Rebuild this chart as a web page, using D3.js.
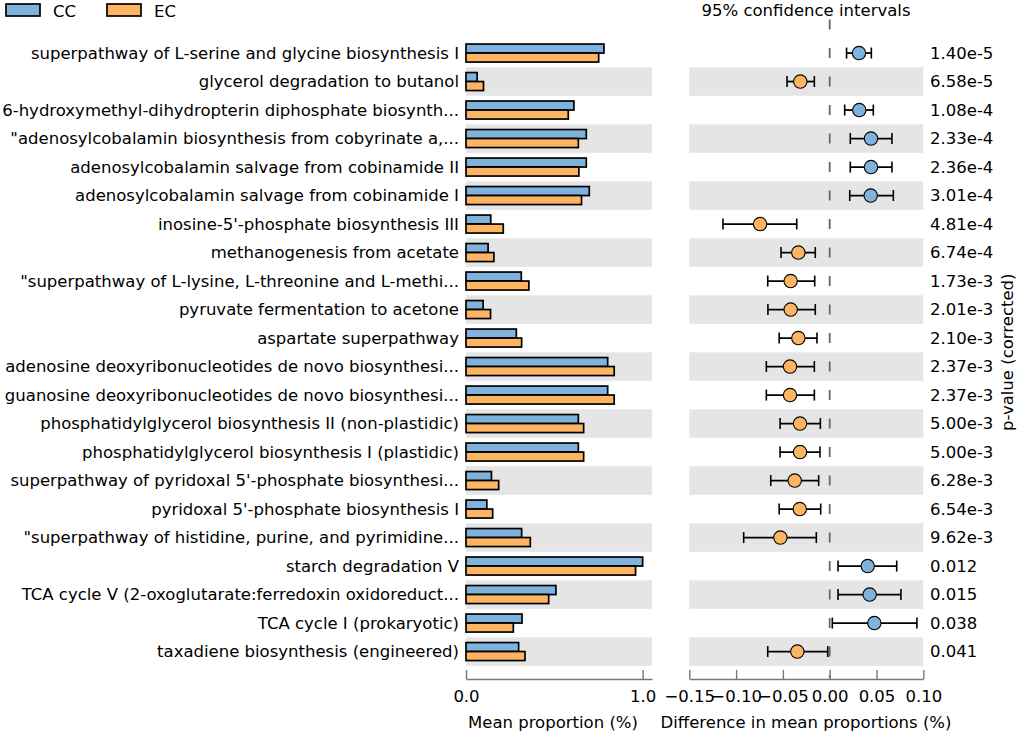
<!DOCTYPE html>
<html>
<head>
<meta charset="utf-8">
<script src="https://cdn.jsdelivr.net/npm/d3@7"></script>
<style>
  body { margin: 0; background: #fff; }
  svg text { font-family: "DejaVu Sans", sans-serif; fill: #000; }
  .axis path, .axis line { stroke: #777; stroke-width: 1.4; }
  .axis text { font-size: 16.5px; font-family: "DejaVu Sans", sans-serif; }
</style>
</head>
<body>
<div id="chart"></div>
<script>
// pathway names, top to bottom
var pathways = [
  "superpathway of L-serine and glycine biosynthesis I",
  "glycerol degradation to butanol",
  "6-hydroxymethyl-dihydropterin diphosphate biosynth...",
  "\"adenosylcobalamin biosynthesis from cobyrinate a,...",
  "adenosylcobalamin salvage from cobinamide II",
  "adenosylcobalamin salvage from cobinamide I",
  "inosine-5'-phosphate biosynthesis III",
  "methanogenesis from acetate",
  "\"superpathway of L-lysine, L-threonine and L-methi...",
  "pyruvate fermentation to acetone",
  "aspartate superpathway",
  "adenosine deoxyribonucleotides de novo biosynthesi...",
  "guanosine deoxyribonucleotides de novo biosynthesi...",
  "phosphatidylglycerol biosynthesis II (non-plastidic)",
  "phosphatidylglycerol biosynthesis I (plastidic)",
  "superpathway of pyridoxal 5'-phosphate biosynthesi...",
  "pyridoxal 5'-phosphate biosynthesis I",
  "\"superpathway of histidine, purine, and pyrimidine...",
  "starch degradation V",
  "TCA cycle V (2-oxoglutarate:ferredoxin oxidoreduct...",
  "TCA cycle I (prokaryotic)",
  "taxadiene biosynthesis (engineered)"
];

// mean proportions (%)
var meanCC = [0.781, 0.063, 0.611, 0.681, 0.681, 0.698, 0.140, 0.125, 0.313, 0.097, 0.285,
              0.802, 0.802, 0.636, 0.636, 0.144, 0.118, 0.315, 1.000, 0.509, 0.317, 0.298];
var meanEC = [0.751, 0.099, 0.579, 0.636, 0.639, 0.654, 0.211, 0.158, 0.356, 0.139, 0.315,
              0.839, 0.839, 0.666, 0.666, 0.185, 0.151, 0.364, 0.960, 0.468, 0.268, 0.334];

// difference in mean proportions with 95% CI
var diffMean = [0.0313, -0.0314, 0.0316, 0.0441, 0.0441, 0.0438, -0.0744, -0.0335, -0.0417, -0.0417, -0.0335,
                -0.0424, -0.0424, -0.0317, -0.0317, -0.0374, -0.0320, -0.0527, 0.0406, 0.0427, 0.0477, -0.0346];
var ciLow = [0.018, -0.0456, 0.016, 0.022, 0.022, 0.0214, -0.114, -0.052, -0.0662, -0.066, -0.054,
             -0.0677, -0.0677, -0.053, -0.053, -0.063, -0.054, -0.0919, 0.0089, 0.0089, 0.0028, -0.0662];
var ciHigh = [0.0445, -0.0164, 0.0466, 0.0665, 0.0665, 0.068, -0.0352, -0.0154, -0.016, -0.0154, -0.0136,
              -0.0164, -0.0164, -0.010, -0.0104, -0.0118, -0.0096, -0.0143, 0.0716, 0.0761, 0.0932, -0.0021];

var pValues = ["1.40e-5", "6.58e-5", "1.08e-4", "2.33e-4", "2.36e-4", "3.01e-4", "4.81e-4", "6.74e-4",
               "1.73e-3", "2.01e-3", "2.10e-3", "2.37e-3", "2.37e-3", "5.00e-3", "5.00e-3", "6.28e-3",
               "6.54e-3", "9.62e-3", "0.012", "0.015", "0.038", "0.041"];

var groups = ["CC", "EC"];
var barTicks = [0.0, 1.0];
var diffTicks = [-0.15, -0.10, -0.05, 0.00, 0.05, 0.10];

var width = 1021, height = 733;
var colCC = "#7fb2dc", colEC = "#fdb563", band = "#e5e5e5";
var plotTop = 38.8, plotBottom = 665.8, axisY = 679;
var fs = "16.5px";

var svg = d3.select("#chart").append("svg")
    .attr("width", width)
    .attr("height", height);

var y = d3.scaleBand()
    .domain(d3.range(pathways.length))
    .range([plotTop, plotBottom])
    .padding(0);

var x1 = d3.scaleLinear().domain([0, 1.053]).range([466, 652]);
var x2 = d3.scaleLinear().domain([-0.15, 0.10]).range([689.3, 923.3]);

// alternating row bands
var odd = d3.range(pathways.length).filter(function(i) { return i % 2 === 1; });
[x1, x2].forEach(function(sc) {
  svg.append("g").selectAll("rect")
      .data(odd)
    .enter().append("rect")
      .attr("x", sc.range()[0])
      .attr("width", sc.range()[1] - sc.range()[0])
      .attr("y", function(i) { return y(i); })
      .attr("height", y.bandwidth())
      .attr("fill", band);
});

// row labels
svg.append("g").selectAll("text")
    .data(pathways)
  .enter().append("text")
    .attr("x", 459)
    .attr("y", function(d, i) { return y(i) + y.bandwidth() / 2; })
    .attr("dy", "0.36em")
    .attr("text-anchor", "end")
    .style("font-size", fs)
    .text(function(d) { return d; });

// paired bars
var barH = 9;
var bars = svg.append("g");
bars.selectAll(".cc")
    .data(meanCC)
  .enter().append("rect")
    .attr("class", "cc")
    .attr("x", x1(0))
    .attr("y", function(d, i) { return y(i) + y.bandwidth() / 2 - barH; })
    .attr("width", function(d) { return x1(d) - x1(0); })
    .attr("height", barH)
    .attr("fill", colCC)
    .attr("stroke", "#000")
    .attr("stroke-width", 1.7);
bars.selectAll(".ec")
    .data(meanEC)
  .enter().append("rect")
    .attr("class", "ec")
    .attr("x", x1(0))
    .attr("y", function(d, i) { return y(i) + y.bandwidth() / 2; })
    .attr("width", function(d) { return x1(d) - x1(0); })
    .attr("height", barH)
    .attr("fill", colEC)
    .attr("stroke", "#000")
    .attr("stroke-width", 1.7);

// zero line, one dash per row
var step = y.step();
svg.append("line")
    .attr("x1", x2(0)).attr("x2", x2(0))
    .attr("y1", y(0) - step / 2 - 5)
    .attr("y2", plotBottom + 12)
    .attr("stroke", "#666")
    .attr("stroke-width", 1.8)
    .attr("stroke-dasharray", "10," + (step - 10));

// confidence intervals
var ci = svg.append("g");
var capH = 5.5;
pathways.forEach(function(p, i) {
  var cy = y(i) + y.bandwidth() / 2;
  var g = ci.append("g");
  g.append("line")
    .attr("x1", x2(ciLow[i])).attr("x2", x2(ciHigh[i]))
    .attr("y1", cy).attr("y2", cy)
    .attr("stroke", "#000").attr("stroke-width", 1.8);
  [ciLow[i], ciHigh[i]].forEach(function(v) {
    g.append("line")
      .attr("x1", x2(v)).attr("x2", x2(v))
      .attr("y1", cy - capH).attr("y2", cy + capH)
      .attr("stroke", "#000").attr("stroke-width", 1.6);
  });
  g.append("circle")
    .attr("cx", x2(diffMean[i]))
    .attr("cy", cy)
    .attr("r", 6.7)
    .attr("fill", diffMean[i] > 0 ? colCC : colEC)
    .attr("stroke", "#000")
    .attr("stroke-width", 1.1);
});

// p-values
svg.append("g").selectAll("text")
    .data(pValues)
  .enter().append("text")
    .attr("x", 930)
    .attr("y", function(d, i) { return y(i) + y.bandwidth() / 2; })
    .attr("dy", "0.36em")
    .style("font-size", fs)
    .text(function(d) { return d; });

svg.append("text")
    .attr("transform", "translate(1013," + ((plotTop + plotBottom) / 2) + ") rotate(-90)")
    .attr("text-anchor", "middle")
    .style("font-size", fs)
    .text("p-value (corrected)");

// axes
var fmt1 = d3.format(".1f");
var fmt2 = function(d) { return d3.format(".2f")(d).replace("-", "\u2212"); };
svg.append("g")
    .attr("class", "axis")
    .attr("transform", "translate(0," + axisY + ")")
    .call(d3.axisBottom(x1).tickValues(barTicks).tickFormat(fmt1)
          .tickSize(-9).tickSizeOuter(0).tickPadding(11));
svg.append("g")
    .attr("class", "axis")
    .attr("transform", "translate(0," + axisY + ")")
    .call(d3.axisBottom(x2).tickValues(diffTicks).tickFormat(fmt2)
          .tickSize(-9).tickSizeOuter(0).tickPadding(11));
svg.selectAll(".axis text").style("fill", "#000");

svg.append("text")
    .attr("x", 553).attr("y", 728)
    .attr("text-anchor", "middle")
    .style("font-size", fs)
    .text("Mean proportion (%)");
svg.append("text")
    .attr("x", 806).attr("y", 728)
    .attr("text-anchor", "middle")
    .style("font-size", fs)
    .text("Difference in mean proportions (%)");

svg.append("text")
    .attr("x", 806).attr("y", 16)
    .attr("text-anchor", "middle")
    .style("font-size", fs)
    .text("95% confidence intervals");

// legend
var legend = svg.append("g").selectAll("g")
    .data(groups)
  .enter().append("g")
    .attr("transform", function(d, i) { return "translate(" + (6 + i * 101) + ",4)"; });
legend.append("rect")
    .attr("width", 34).attr("height", 12)
    .attr("fill", function(d, i) { return i === 0 ? colCC : colEC; })
    .attr("stroke", "#000")
    .attr("stroke-width", 1.7);
legend.append("text")
    .attr("x", 47).attr("y", 12.5)
    .style("font-size", fs)
    .text(function(d) { return d; });
</script>
</body>
</html>
